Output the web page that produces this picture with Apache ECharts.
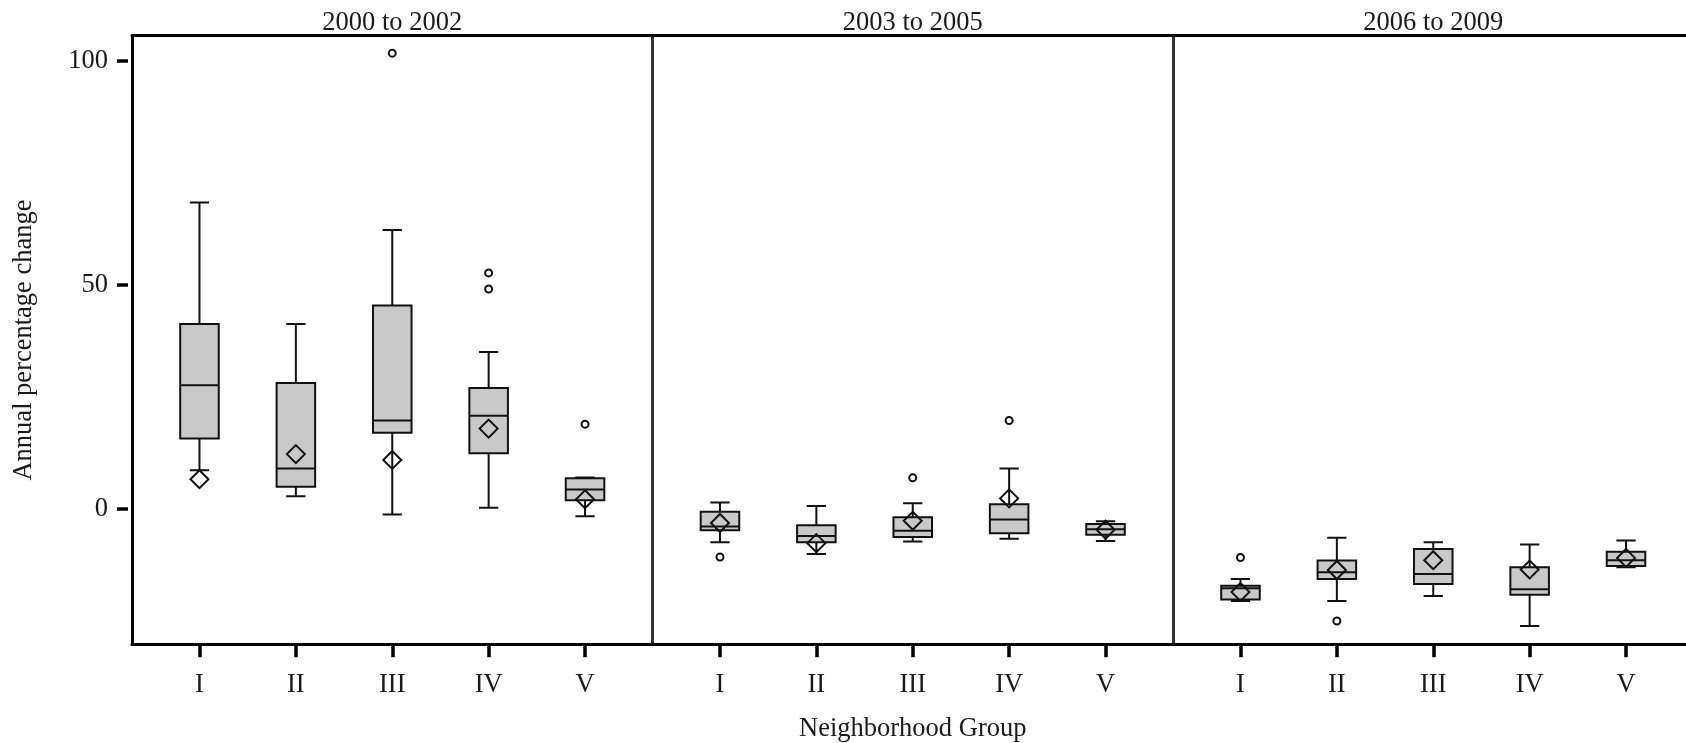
<!DOCTYPE html>
<html>
<head>
<meta charset="utf-8">
<script src="https://cdn.jsdelivr.net/npm/echarts@6/dist/echarts.min.js"></script>
<style>
html,body{margin:0;padding:0;background:#fff;}
#chart{width:1686px;height:743px;}
</style>
</head>
<body>
<div id="chart"></div>
<script>
// ---- data ----
const groups = ['I', 'II', 'III', 'IV', 'V'];
const periods = ['2000 to 2002', '2003 to 2005', '2006 to 2009'];
const yTicks = [0, 50, 100];
const xTitle = 'Neighborhood Group';
const yTitle = 'Annual percentage change';

// box statistics per group: [lower whisker, Q1, median, Q3, upper whisker]
const box2000 = [
  [8.6, 15.7, 27.6, 41.3, 68.4],
  [2.8, 4.9, 9.0, 28.1, 41.3],
  [-1.3, 17.0, 19.7, 45.4, 62.3],
  [0.2, 12.4, 20.8, 27.0, 35.0],
  [-1.7, 1.9, 4.3, 6.8, 7.0]
];
const box2003 = [
  [-7.5, -4.8, -4.0, -0.7, 1.4],
  [-10.1, -7.5, -6.1, -3.7, 0.6],
  [-7.3, -6.3, -4.9, -1.9, 1.2],
  [-6.7, -5.5, -2.4, 1.0, 9.0],
  [-7.2, -5.8, -4.6, -3.4, -2.8]
];
const box2006 = [
  [-20.6, -20.3, -17.8, -17.2, -15.7],
  [-20.6, -15.7, -14.2, -11.6, -6.5],
  [-19.5, -16.8, -14.6, -9.0, -7.5],
  [-26.2, -19.2, -18.0, -13.1, -8.0],
  [-13.1, -12.8, -11.5, -9.6, -7.1]
];
// means per group
const mean2000 = [6.6, 12.2, 10.9, 17.9, 2.1];
const mean2003 = [-3.2, -7.7, -2.7, 2.3, -4.7];
const mean2006 = [-18.6, -13.7, -11.5, -13.6, -11.0];
// outliers: [group number, value]
const out2000 = [[3, 101.8], [4, 52.7], [4, 49.1], [5, 18.9]];
const out2003 = [[1, -10.8], [3, 6.9], [4, 19.7]];
const out2006 = [[1, -10.9], [2, -25.1]];

// ---- chart ----
const boxes = [box2000, box2003, box2006];
const means = [mean2000, mean2003, mean2006];
const outs = [out2000, out2003, out2006];

const FONT = 'Liberation Serif';
const FS = 26.5;
const TXT = '#1a1a1a';
const gridLefts = [132, 652.5, 1173];
const gridW = 520.5;
const X_MIN = 0.3, X_MAX = 5.7, Y_MIN = -30.3, Y_MAX = 105.7;
const ticksX = groups.map((g, i) => i + 1);

const grids = [], xAxes = [], yAxes = [], series = [];

function renderBox(params, api) {
  const x = api.value(0);
  const lo = api.coord([x, api.value(1)]);
  const q1 = api.coord([x, api.value(2)]);
  const md = api.coord([x, api.value(3)]);
  const q3 = api.coord([x, api.value(4)]);
  const hi = api.coord([x, api.value(5)]);
  const cx = lo[0];
  const bl = api.coord([x - 0.2, 0])[0], br = api.coord([x + 0.2, 0])[0];
  const cl = api.coord([x - 0.1, 0])[0], cr = api.coord([x + 0.1, 0])[0];
  const ls = { stroke: '#111', lineWidth: 2, fill: null };
  return {
    type: 'group',
    children: [
      { type: 'line', shape: { x1: cx, y1: hi[1], x2: cx, y2: q3[1] }, style: ls },
      { type: 'line', shape: { x1: cx, y1: q1[1], x2: cx, y2: lo[1] }, style: ls },
      { type: 'line', shape: { x1: cl, y1: hi[1], x2: cr, y2: hi[1] }, style: ls },
      { type: 'line', shape: { x1: cl, y1: lo[1], x2: cr, y2: lo[1] }, style: ls },
      { type: 'rect', shape: { x: bl, y: q3[1], width: br - bl, height: q1[1] - q3[1] },
        style: { fill: '#c9c9c9', stroke: '#111', lineWidth: 2 } },
      { type: 'line', shape: { x1: bl, y1: md[1], x2: br, y2: md[1] }, style: ls }
    ]
  };
}

periods.forEach((p, i) => {
  grids.push({ left: gridLefts[i], top: 35.7, width: gridW, height: 608.6,
    containLabel: false, outerBoundsMode: 'none' });
  // bottom axis
  xAxes.push({
    gridIndex: i, type: 'value', position: 'bottom', min: X_MIN, max: X_MAX,
    axisLine: { show: true, onZero: false, lineStyle: { color: '#000', width: 3 } },
    axisTick: { show: true, customValues: ticksX, length: 13, lineStyle: { color: '#000', width: 3.5 } },
    axisLabel: { show: true, customValues: ticksX, formatter: v => groups[Math.round(v) - 1] || '',
      fontFamily: FONT, fontSize: FS, color: TXT, margin: 27 },
    splitLine: { show: false },
    name: i === 1 ? xTitle : '', nameLocation: 'middle', nameGap: 71,
    nameTextStyle: { fontFamily: FONT, fontSize: FS, color: TXT }
  });
  // top axis (frame + panel title)
  xAxes.push({
    gridIndex: i, type: 'value', position: 'top', min: X_MIN, max: X_MAX,
    axisLine: { show: true, onZero: false, lineStyle: { color: '#000', width: 3 } },
    axisTick: { show: false }, axisLabel: { show: false }, splitLine: { show: false },
    name: p, nameLocation: 'middle', nameGap: -1,
    nameTextStyle: { fontFamily: FONT, fontSize: FS, color: TXT }
  });
  // left axis (frame/separator)
  yAxes.push({
    gridIndex: i, type: 'value', position: 'left', min: Y_MIN, max: Y_MAX,
    axisLine: { show: true, onZero: false, lineStyle: { color: i === 0 ? '#000' : '#333', width: 3 } },
    axisTick: { show: false }, axisLabel: { show: false }, splitLine: { show: false }
  });
});
// tick/label axis of first panel, slightly offset from the frame
yAxes.push({
  gridIndex: 0, type: 'value', position: 'left', min: Y_MIN, max: Y_MAX, offset: 4,
  axisLine: { show: false },
  axisTick: { show: true, customValues: yTicks, length: 11, lineStyle: { color: '#000', width: 3.5 } },
  axisLabel: { show: true, customValues: yTicks, margin: 20, fontFamily: FONT, fontSize: FS, color: TXT },
  splitLine: { show: false },
  name: yTitle, nameLocation: 'middle', nameGap: 90,
  nameTextStyle: { fontFamily: FONT, fontSize: FS, color: TXT }
});

periods.forEach((p, i) => {
  series.push({
    type: 'custom', name: p + ' boxes', xAxisIndex: i * 2, yAxisIndex: i,
    renderItem: renderBox, encode: { x: 0, y: [1, 2, 3, 4, 5] },
    data: boxes[i].map((b, k) => [k + 1].concat(b)), clip: true, z: 2
  });
  series.push({
    type: 'scatter', name: p + ' mean', xAxisIndex: i * 2, yAxisIndex: i,
    symbol: 'diamond', symbolSize: 18,
    itemStyle: { color: 'rgba(0,0,0,0)', borderColor: '#111', borderWidth: 2, opacity: 1 },
    data: means[i].map((m, k) => [k + 1, m]), z: 4, clip: true
  });
  series.push({
    type: 'scatter', name: p + ' outliers', xAxisIndex: i * 2, yAxisIndex: i,
    symbol: 'circle', symbolSize: 7,
    itemStyle: { color: 'rgba(0,0,0,0)', borderColor: '#111', borderWidth: 2, opacity: 1 },
    data: outs[i].map(o => [o[0], o[1]]), z: 4, clip: true
  });
});

const chart = echarts.init(document.getElementById('chart'), null, { renderer: 'canvas' });
chart.setOption({
  backgroundColor: '#fff',
  animation: false,
  grid: grids,
  xAxis: xAxes,
  yAxis: yAxes,
  series: series
});
</script>
</body>
</html>
